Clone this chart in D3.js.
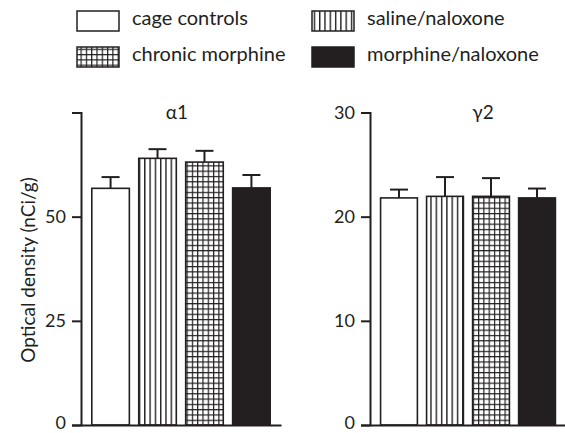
<!DOCTYPE html>
<html>
<head>
<meta charset="utf-8">
<script src="https://cdn.jsdelivr.net/npm/d3@7"></script>
<style>
  html, body { margin: 0; padding: 0; background: #fff; }
  svg { display: block; }
  text { font-family: Lato, "Open Sans", sans-serif; fill: #231f20; }
</style>
</head>
<body>
<svg id="chart" width="565" height="433"></svg>
<script>
// ---- data ----
const groups = ["cage controls", "saline/naloxone", "chronic morphine", "morphine/naloxone"];
const alpha1Means = [56.8, 64.0, 63.1, 56.9];
const alpha1Errors = [2.7, 2.2, 2.7, 3.1];
const gamma2Means = [21.8, 21.95, 21.95, 21.8];
const gamma2Errors = [0.8, 1.85, 1.75, 0.9];
const alpha1Ticks = [0, 25, 50];
const gamma2Ticks = [0, 10, 20, 30];
const panelTitles = ["\u03b11", "\u03b32"];
const yLabel = "Optical density (nCi/g)";

const ink = "#231f20";
const svg = d3.select("#chart");

// ---- patterns ----
const defs = svg.append("defs");
const vp = defs.append("pattern").attr("id", "vstripe").attr("patternUnits", "userSpaceOnUse")
  .attr("width", 5.3).attr("height", 10).attr("x", 1);
vp.append("rect").attr("width", 5.3).attr("height", 10).attr("fill", "#fff");
vp.append("line").attr("x1", 0.7).attr("x2", 0.7).attr("y1", 0).attr("y2", 10).attr("stroke", ink).attr("stroke-width", 1.4);
const gp = defs.append("pattern").attr("id", "grid").attr("patternUnits", "userSpaceOnUse")
  .attr("width", 5.3).attr("height", 5.3).attr("x", 1).attr("y", 1);
gp.append("rect").attr("width", 5.3).attr("height", 5.3).attr("fill", "#fff");
gp.append("line").attr("x1", 0.6).attr("x2", 0.6).attr("y1", 0).attr("y2", 5.3).attr("stroke", ink).attr("stroke-width", 1.2);
gp.append("line").attr("y1", 0.6).attr("y2", 0.6).attr("x1", 0).attr("x2", 5.3).attr("stroke", ink).attr("stroke-width", 1.2);

const fills = ["#fff", "url(#vstripe)", "url(#grid)", ink];

// ---- legend ----
const legendPos = [[77, 11], [312, 11], [77, 47], [312, 47]];
const legendOrder = [0, 1, 2, 3];
legendOrder.forEach((gi, i) => {
  const [lx, ly] = legendPos[i];
  svg.append("rect").attr("x", lx).attr("y", ly).attr("width", 42).attr("height", 20)
    .attr("fill", fills[gi]).attr("stroke", ink).attr("stroke-width", 1.5);
  svg.append("text").attr("x", lx + 55).attr("y", ly + 14).attr("font-size", 20).text(groups[gi]);
});

// ---- panels ----
function panel(x0, x1, yMax, ticks, means, errs, title, titleX) {
  const y = d3.scaleLinear().domain([0, yMax]).range([425, 112.5]);
  const x = d3.scaleBand().domain(groups).range([x0, x1]).paddingInner(0.2).paddingOuter(0.23);
  const g = svg.append("g");
  // bars
  g.selectAll("rect.bar").data(groups).enter().append("rect")
    .attr("x", d => x(d)).attr("width", x.bandwidth())
    .attr("y", (d, i) => y(means[i])).attr("height", (d, i) => y(0) - y(means[i]))
    .attr("fill", (d, i) => fills[i]).attr("stroke", ink).attr("stroke-width", 1.6);
  // error bars (upper only)
  groups.forEach((d, i) => {
    const cx = x(d) + x.bandwidth() / 2;
    g.append("line").attr("x1", cx).attr("x2", cx).attr("y1", y(means[i])).attr("y2", y(means[i] + errs[i]))
      .attr("stroke", ink).attr("stroke-width", 2);
    g.append("line").attr("x1", cx - 9).attr("x2", cx + 9).attr("y1", y(means[i] + errs[i])).attr("y2", y(means[i] + errs[i]))
      .attr("stroke", ink).attr("stroke-width", 2);
  });
  // y axis
  const ax = d3.axisLeft(y).tickValues(ticks).tickSize(9).tickPadding(6).tickFormat(d3.format("d"));
  const ag = g.append("g").attr("transform", `translate(${x0},0)`).call(ax);
  ag.select(".domain").attr("stroke", ink).attr("stroke-width", 2);
  ag.selectAll(".tick line").attr("stroke", ink).attr("stroke-width", 2);
  ag.selectAll(".tick text").attr("font-size", 18).attr("font-family", "Lato, sans-serif").attr("fill", ink)
    .attr("dy", d => d === 0 ? "0.2em" : "0.32em");
  // x baseline
  const xb = d3.axisBottom(x).tickSize(0).tickFormat("");
  const xg = g.append("g").attr("transform", `translate(0,${y(0)})`).call(xb);
  xg.select(".domain").attr("stroke", ink).attr("stroke-width", 2);
  // title
  g.append("text").attr("x", titleX).attr("y", 119).attr("text-anchor", "middle").attr("font-size", 19).text(title);
}

panel(81, 281, 75, alpha1Ticks, alpha1Means, alpha1Errors, panelTitles[0], 177);
panel(370, 566, 30, gamma2Ticks, gamma2Means, gamma2Errors, panelTitles[1], 483);

// y label
svg.append("text").attr("transform", "translate(35,270) rotate(-90)").attr("text-anchor", "middle")
  .attr("font-size", 19).text(yLabel);
</script>
</body>
</html>
